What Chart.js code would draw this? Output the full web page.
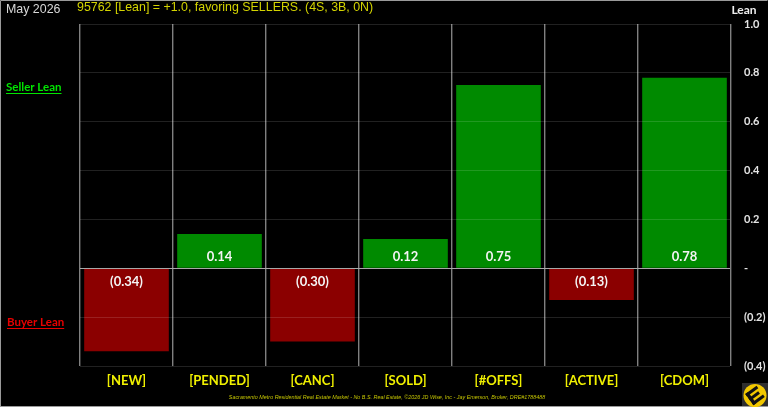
<!DOCTYPE html>
<html>
<head>
<meta charset="utf-8">
<title>95762 Lean</title>
<script src="https://cdn.jsdelivr.net/npm/chart.js@4"></script>
<style>
  html, body { margin: 0; padding: 0; background: #000; overflow: hidden; }
  canvas { display: block; }
</style>
</head>
<body>
<canvas id="leanChart" width="768" height="407"></canvas>
<script>
const categories = ['[NEW]', '[PENDED]', '[CANC]', '[SOLD]', '[#OFFS]', '[ACTIVE]', '[CDOM]'];
const leanValues = [-0.34, 0.14, -0.30, 0.12, 0.75, -0.13, 0.78];
const tickLabels = ['(0.4)', '(0.2)', '-', '0.2', '0.4', '0.6', '0.8', '1.0'];

const monthLabel = 'May 2026';
const headline = '95762 [Lean] = +1.0, favoring SELLERS. (4S, 3B, 0N)';
const footer = 'Sacramento Metro Residential Real Estate Market - No B.S. Real Estate, \u00A92026 JD Wise, Inc - Jay Emerson, Broker, DRE#1788488';

const GREEN = '#008a00';
const RED = '#8b0000';
const YELLOW = '#f0f000';
const LABEL_FONT = 'Lato, "Open Sans", sans-serif';
const HEAD_FONT = '"Liberation Sans", Arial, sans-serif';

function formatLean(v) {
  return v < 0 ? '(' + Math.abs(v).toFixed(2) + ')' : v.toFixed(2);
}

// value labels sit just inside the bar, next to the zero line
const barLabels = {
  id: 'barLabels',
  afterDatasetsDraw(chart) {
    const ctx = chart.ctx;
    const meta = chart.getDatasetMeta(0);
    ctx.save();
    ctx.font = 'bold 13px ' + LABEL_FONT;
    ctx.fillStyle = '#f4f4f4';
    ctx.textAlign = 'center';
    ctx.textBaseline = 'middle';
    meta.data.forEach((bar, i) => {
      const v = leanValues[i];
      ctx.fillText(formatLean(v), bar.x, bar.base + (v < 0 ? 13 : -11));
    });
    ctx.restore();
  }
};

function underlined(ctx, text, x, y, color) {
  ctx.fillStyle = color;
  ctx.fillText(text, x, y);
  const w = ctx.measureText(text).width;
  ctx.fillRect(x, y + 6, w, 1);
}

const frameText = {
  id: 'frameText',
  afterDraw(chart) {
    const ctx = chart.ctx;
    ctx.save();
    ctx.textBaseline = 'middle';

    ctx.font = '12.4px ' + HEAD_FONT;
    ctx.fillStyle = '#d8d8d8';
    ctx.fillText(monthLabel, 6, 10);
    ctx.fillStyle = '#d4d400';
    ctx.fillText(headline, 77, 8);

    ctx.font = 'bold 11.5px ' + LABEL_FONT;
    underlined(ctx, 'Seller Lean', 6, 87, '#00e600');
    underlined(ctx, 'Buyer Lean', 7, 322, '#e80000');

    ctx.font = 'bold 12px ' + LABEL_FONT;
    ctx.fillStyle = '#eeeeee';
    ctx.textAlign = 'center';
    ctx.fillText('Lean', 744, 10);

    ctx.font = 'italic 5.4px ' + HEAD_FONT;
    ctx.fillStyle = '#c4c400';
    ctx.fillText(footer, 387, 397);

    // outer border
    ctx.strokeStyle = '#9a9a9a';
    ctx.lineWidth = 1;
    ctx.beginPath();
    ctx.moveTo(0.5, 406.5);
    ctx.lineTo(0.5, 0.5);
    ctx.lineTo(767.5, 0.5);
    ctx.moveTo(0, 406.5);
    ctx.lineTo(768, 406.5);
    ctx.stroke();

    // logo badge, bottom right corner
    ctx.fillStyle = '#2e2e2e';
    ctx.fillRect(742, 383, 26, 23);
    ctx.fillStyle = '#f2c800';
    ctx.beginPath();
    ctx.arc(755, 395.5, 11.5, 0, Math.PI * 2);
    ctx.fill();
    ctx.translate(755, 395.5);
    ctx.rotate(-Math.PI / 5);
    ctx.fillStyle = '#111';
    ctx.fillRect(-7, -7, 3.5, 14);
    ctx.fillRect(-7, -7, 14, 3);
    ctx.fillRect(-7, -1.5, 12, 3);
    ctx.fillRect(-7, 4, 14, 3);
    ctx.restore();
  }
};

new Chart(document.getElementById('leanChart'), {
  type: 'bar',
  data: {
    labels: categories,
    datasets: [{
      data: leanValues,
      backgroundColor: leanValues.map(v => v < 0 ? RED : GREEN),
      borderWidth: 0,
      barPercentage: 0.91,
      categoryPercentage: 1
    }]
  },
  options: {
    responsive: false,
    animation: false,
    layout: { padding: { left: 80, top: 24, right: 0, bottom: 0 } },
    plugins: {
      legend: { display: false },
      title: { display: false },
      tooltip: { enabled: false }
    },
    scales: {
      x: {
        afterFit(scale) { scale.height = 41; },
        grid: { color: '#808080', lineWidth: 1.4, drawTicks: false, z: 1 },
        border: { color: '#555555' },
        ticks: {
          color: YELLOW,
          font: { family: LABEL_FONT, size: 13, weight: 'bold' },
          padding: 7,
          maxRotation: 0,
          autoSkip: false
        }
      },
      y: {
        position: 'right',
        min: -0.4,
        max: 1,
        afterFit(scale) { scale.width = 37; },
        grid: {
          drawTicks: false,
          z: 1,
          color: ctx => Math.abs(ctx.tick.value) < 1e-6 ? '#a8a8a8' : 'rgba(255,255,255,0.13)'
        },
        border: { color: '#808080', width: 1.4 },
        afterBuildTicks(scale) {
          scale.ticks = tickLabels.map((_, i) => ({ value: -0.4 + i * 0.2 }));
        },
        ticks: {
          color: '#e4e4e4',
          font: { family: LABEL_FONT, size: 11, weight: 'bold' },
          crossAlign: 'near',
          padding: 13,
          callback: (value, i) => tickLabels[i]
        }
      }
    }
  },
  plugins: [barLabels, frameText]
});
</script>
</body>
</html>
